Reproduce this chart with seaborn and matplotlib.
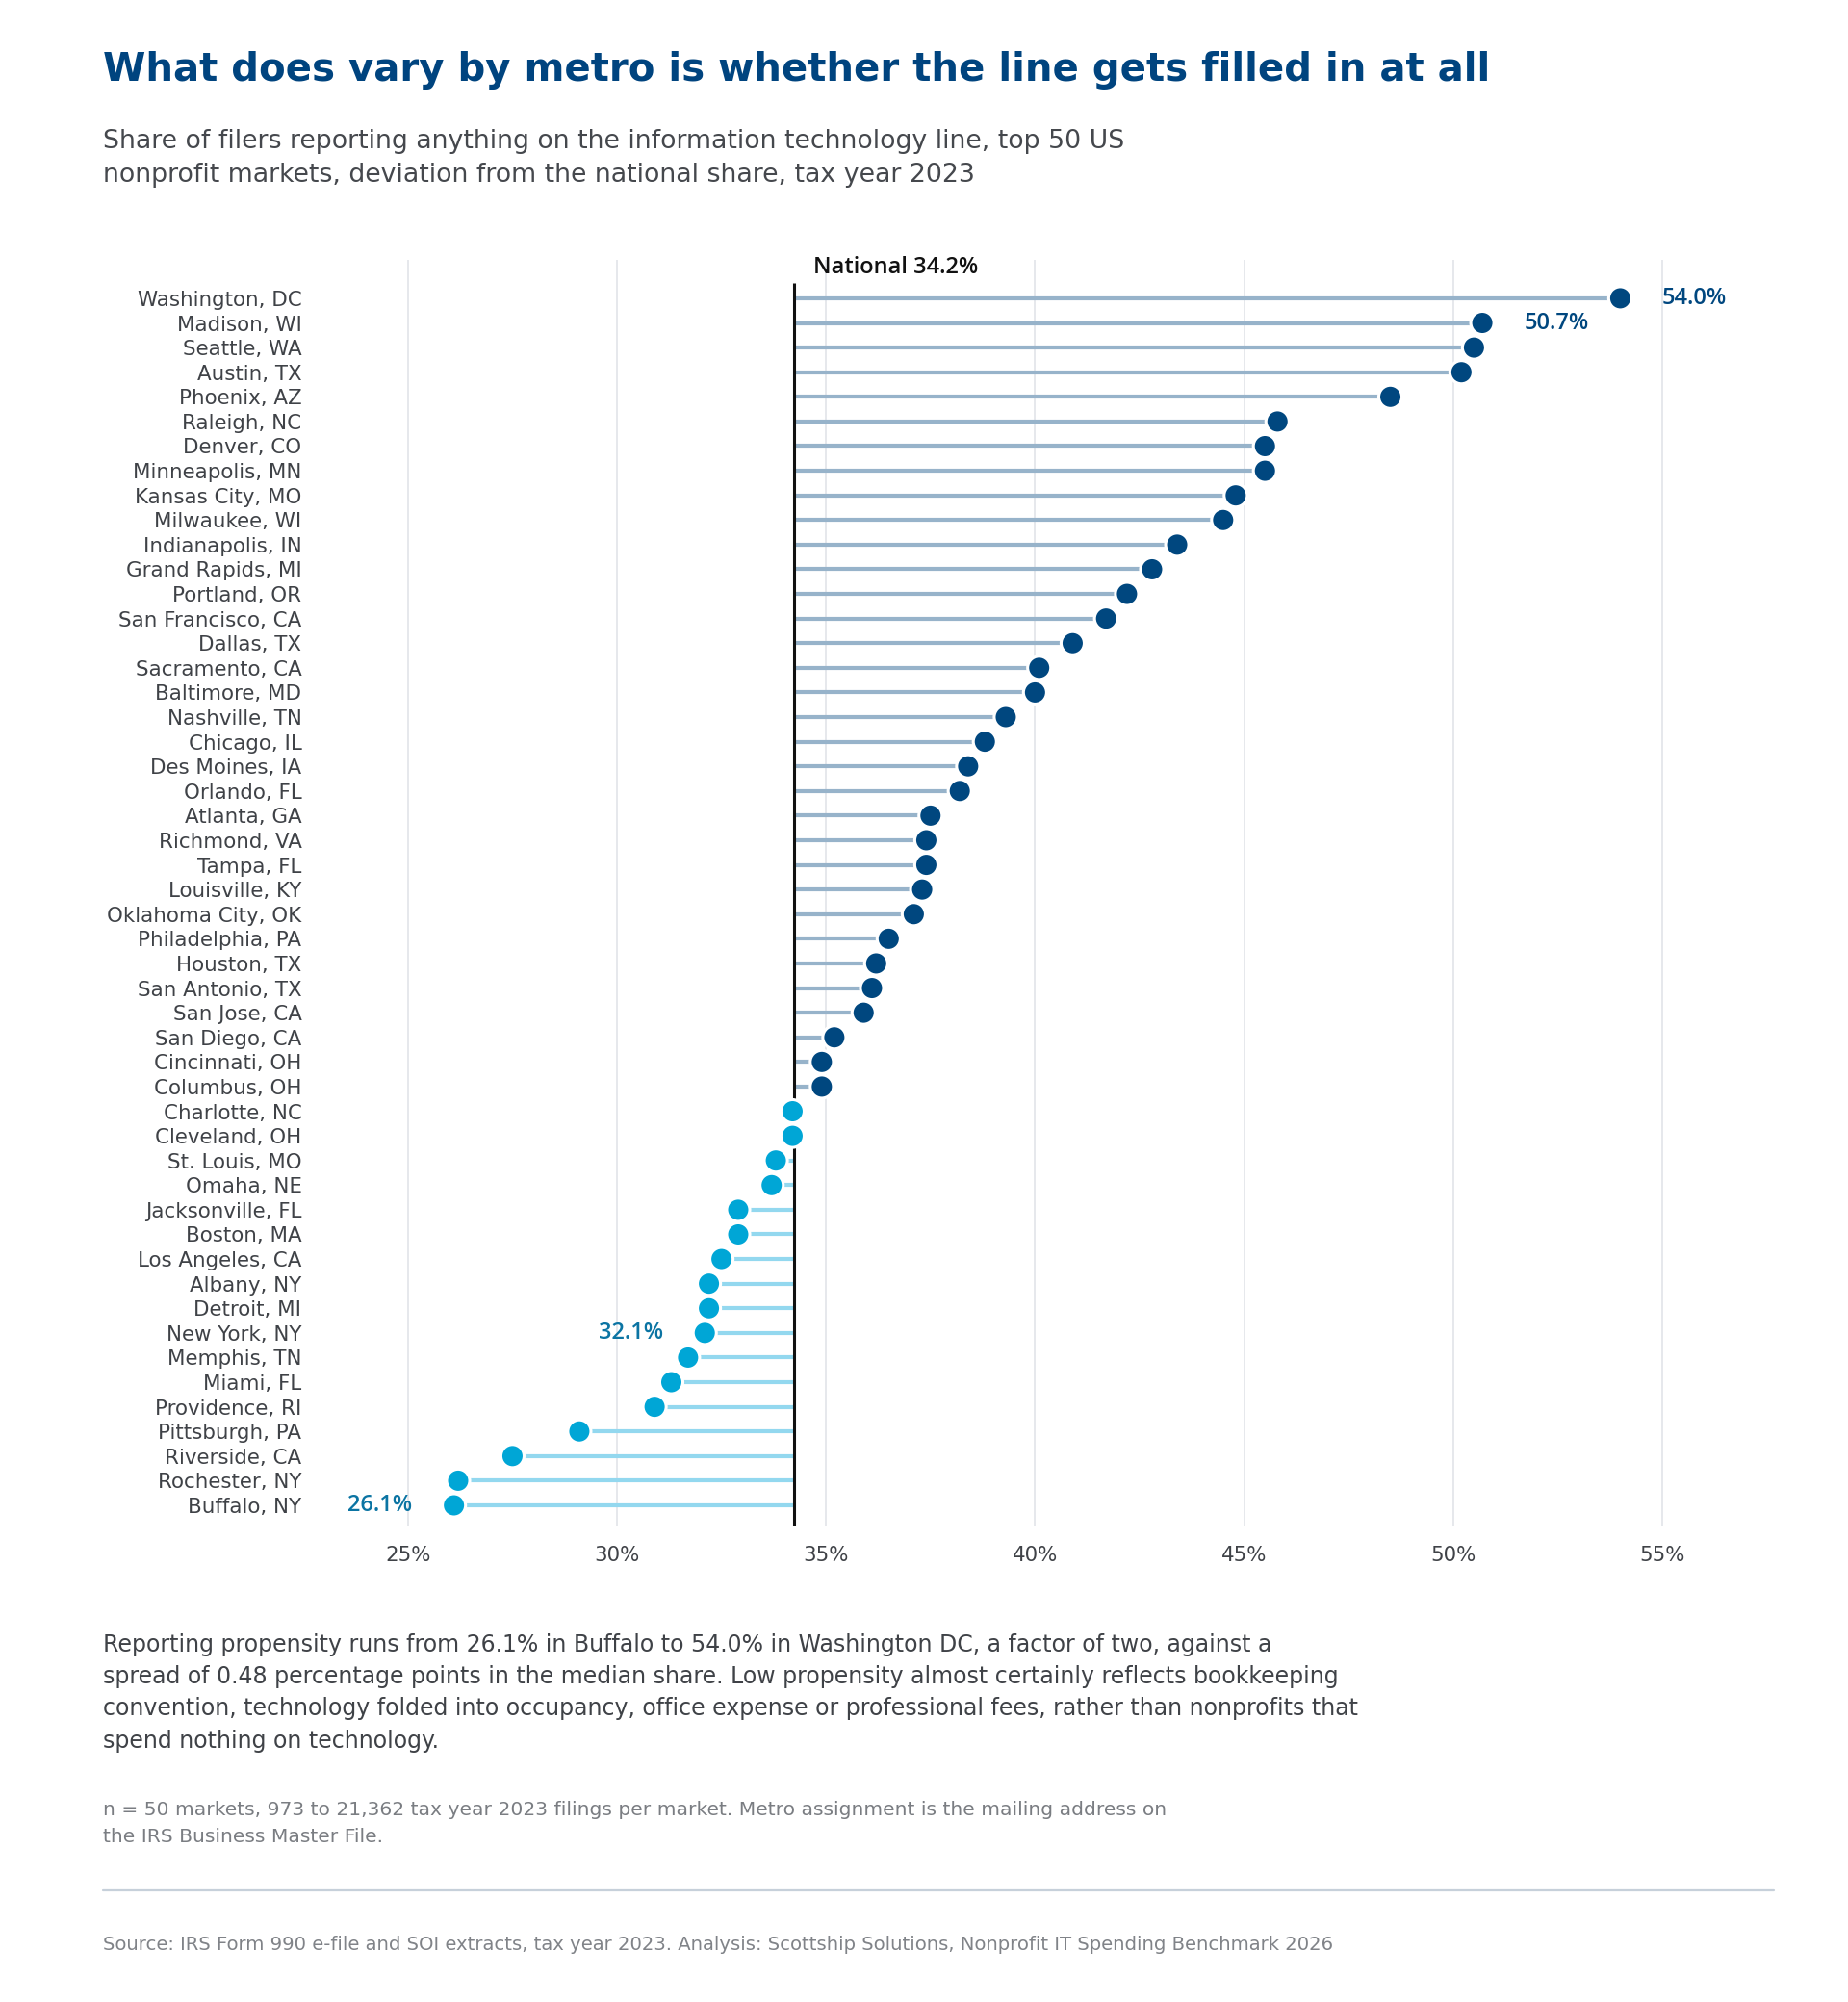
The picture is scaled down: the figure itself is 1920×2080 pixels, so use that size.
import numpy as np
import pandas as pd
import matplotlib
matplotlib.use("Agg")
import matplotlib.pyplot as plt
import seaborn as sns

metros = ["Washington, DC", "Madison, WI", "Seattle, WA", "Austin, TX", "Phoenix, AZ",
          "Raleigh, NC", "Denver, CO", "Minneapolis, MN", "Kansas City, MO", "Milwaukee, WI",
          "Indianapolis, IN", "Grand Rapids, MI", "Portland, OR", "San Francisco, CA", "Dallas, TX",
          "Sacramento, CA", "Baltimore, MD", "Nashville, TN", "Chicago, IL", "Des Moines, IA",
          "Orlando, FL", "Atlanta, GA", "Richmond, VA", "Tampa, FL", "Louisville, KY",
          "Oklahoma City, OK", "Philadelphia, PA", "Houston, TX", "San Antonio, TX", "San Jose, CA",
          "San Diego, CA", "Cincinnati, OH", "Columbus, OH", "Charlotte, NC", "Cleveland, OH",
          "St. Louis, MO", "Omaha, NE", "Jacksonville, FL", "Boston, MA", "Los Angeles, CA",
          "Albany, NY", "Detroit, MI", "New York, NY", "Memphis, TN", "Miami, FL",
          "Providence, RI", "Pittsburgh, PA", "Riverside, CA", "Rochester, NY", "Buffalo, NY"]
share = [54.0, 50.7, 50.5, 50.2, 48.5,
         45.8, 45.5, 45.5, 44.8, 44.5,
         43.4, 42.8, 42.2, 41.7, 40.9,
         40.1, 40.0, 39.3, 38.8, 38.4,
         38.2, 37.5, 37.4, 37.4, 37.3,
         37.1, 36.5, 36.2, 36.1, 35.9,
         35.2, 34.9, 34.9, 34.2, 34.2,
         33.8, 33.7, 32.9, 32.9, 32.5,
         32.2, 32.2, 32.1, 31.7, 31.3,
         30.9, 29.1, 27.5, 26.2, 26.1]
national = 34.24
labelled = ["Washington, DC", "Madison, WI", "New York, NY", "Buffalo, NY"]
xticks = [25, 30, 35, 40, 45, 50, 55]

title = "What does vary by metro is whether the line gets filled in at all"
subtitle = ["Share of filers reporting anything on the information technology line, top 50 US",
            "nonprofit markets, deviation from the national share, tax year 2023"]
body = ["Reporting propensity runs from 26.1% in Buffalo to 54.0% in Washington DC, a factor of two, against a",
        "spread of 0.48 percentage points in the median share. Low propensity almost certainly reflects bookkeeping",
        "convention, technology folded into occupancy, office expense or professional fees, rather than nonprofits that",
        "spend nothing on technology."]
footnote = ["n = 50 markets, 973 to 21,362 tax year 2023 filings per market. Metro assignment is the mailing address on",
            "the IRS Business Master File."]
source = ("Source: IRS Form 990 e-file and SOI extracts, tax year 2023. Analysis: Scottship Solutions, "
          "Nonprofit IT Spending Benchmark 2026")

NAVY = "#00477f"
NAVY_STEM = "#97b3ca"
CYAN = "#00a6d6"
CYAN_STEM = "#93d8ef"
CYAN_TXT = "#0b74a3"
GREY = "#3f4247"
LABEL_FONT = ["Open Sans", "DejaVu Sans"]

df = pd.DataFrame({"metro": metros, "share": share})
df["pos"] = np.arange(len(df))
df["side"] = np.where(df["share"] > national, "above", "below")

sns.set_theme(style="white")
plt.rcParams["font.family"] = ["DejaVu Sans"]

W, H = 1920, 2080
fig = plt.figure(figsize=(W / 100, H / 100), dpi=100)
ax = fig.add_axes([337 / W, 1 - 1585 / H, (1792 - 337) / W, (1585 - 270) / H])

# grid
for t in xticks:
    ax.axvline(t, color="#e4e6ea", lw=1.3, zorder=0)

# stems
for side, col in [("above", NAVY_STEM), ("below", CYAN_STEM)]:
    d = df[df["side"] == side]
    ax.hlines(d["pos"], national, d["share"], color=col, lw=3.0, zorder=1)

ax.vlines(national, -0.61, len(df), color="#111111", lw=2.2, zorder=2)

sns.scatterplot(data=df, x="share", y="pos", hue="side", palette={"above": NAVY, "below": CYAN},
                s=300, edgecolor="white", linewidth=2.2, legend=False, zorder=3, ax=ax)

for m in labelled:
    r = df[df["metro"] == m].iloc[0]
    up = r["side"] == "above"
    ax.annotate(f"{r['share']:.1f}%", (r["share"], r["pos"]), xytext=(31 if up else -31, 0),
                textcoords="offset points", ha="left" if up else "right", va="center",
                fontsize=17, fontweight="semibold", color=NAVY if up else CYAN_TXT,
                family=LABEL_FONT)

ax.text(national + 0.46, -1.23, f"National {national:.1f}%", ha="left", va="center",
        fontsize=17, fontweight="semibold", color="#111111", family=LABEL_FONT)

ax.set_xlim(23, 56.5)
ax.set_ylim(len(df) - 0.18, -1.56)
ax.set_xticks(xticks)
ax.set_xticklabels([f"{t}%" for t in xticks])
ax.set_yticks(df["pos"])
ax.set_yticklabels(df["metro"])
ax.tick_params(axis="y", length=0, pad=17, labelsize=15.4, labelcolor=GREY)
ax.tick_params(axis="x", length=0, pad=15, labelsize=15.4, labelcolor=GREY)
ax.set_xlabel("")
ax.set_ylabel("")
sns.despine(ax=ax, left=True, bottom=True)


def line(y, s, **kw):
    fig.text(107 / W, 1 - y / H, s, ha="left", va="center", **kw)


line(73, title, fontsize=29, fontweight="bold", color="#00447f")
for y, s in zip([147, 182], subtitle):
    line(y, s, fontsize=19.3, color="#45484d")
for y, s in zip([1709, 1742, 1775, 1809], body):
    line(y, s, fontsize=17, color=GREY)
for y, s in zip([1880, 1909], footnote):
    line(y, s, fontsize=14.6, color="#7a7d82")
fig.add_artist(plt.Line2D([107 / W, 1843 / W], [1 - 1964 / H, 1 - 1964 / H],
                          color="#c6d0da", lw=1.6))
line(2021, source, fontsize=14.1, color="#808388")

fig.savefig("out.png", dpi=100, facecolor="white")
